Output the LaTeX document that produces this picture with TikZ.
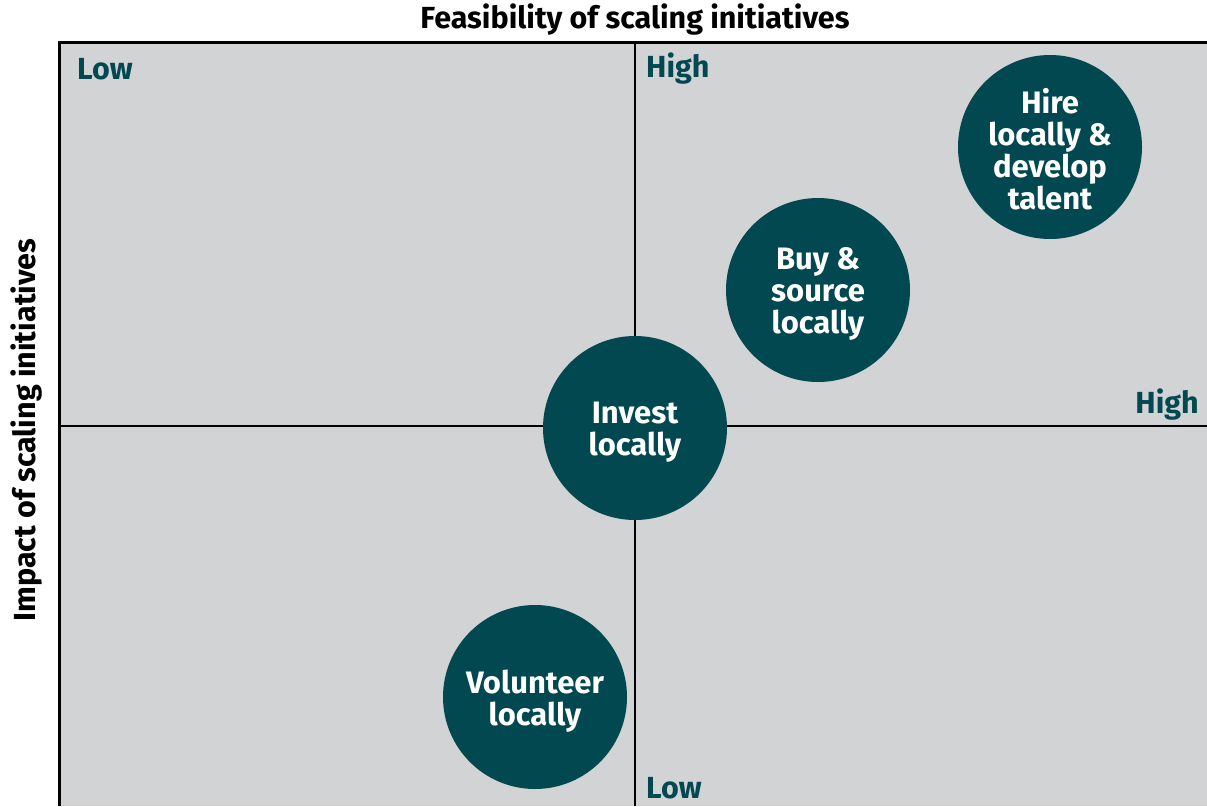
\documentclass[tikz,border=0pt]{standalone}
\usepackage{fontspec}
\setmainfont{Fira Sans}
\definecolor{panel}{HTML}{D1D3D4}
\definecolor{teal}{HTML}{014850}
\begin{document}
\begin{tikzpicture}[x=1pt,y=-1pt,
  bubble/.style={circle,fill=teal,minimum size=184pt,inner sep=0pt},
  btext/.style={text=white,font=\fontsize{31}{32}\selectfont\bfseries,align=center,inner sep=0pt},
  level/.style={text=teal,font=\fontsize{30.5}{32}\selectfont\bfseries,inner sep=0pt},
  axis/.style={text=black,font=\fontsize{30.5}{32}\selectfont\bfseries,inner sep=0pt}]
\useasboundingbox (0,0) rectangle (1207,806);
\fill[panel] (59.5,42) rectangle (1207,806);
\draw[line width=3pt] (59.5,806) -- (59.5,42) -- (1207,42);
\draw[line width=2pt] (635,42) -- (635,806);
\draw[line width=2pt] (59.5,426) -- (1207,426);
\node[axis] (title) at (635,20) {Feasibility of scaling initiatives};
\node[axis,rotate=90] (ylab) at (27,430) {Impact of scaling initiatives};
\node[level,anchor=west] (lowx) at (77,69) {Low};
\node[level,anchor=west] (highx) at (646,69) {High};
\node[level,anchor=east] (highy) at (1199,405) {High};
\node[level,anchor=west] (lowy) at (646,788) {Low};
\node[bubble] (hire) at (1050,147) {};
\node[bubble] (buy) at (818,290) {};
\node[bubble] (invest) at (635,428) {};
\node[bubble] (vol) at (535,697) {};
\node[btext] (hiret) at ([yshift=-2pt]hire.center) {Hire\\locally \&\\develop\\talent};
\node[btext] (buyt) at ([yshift=-4pt]buy.center) {Buy \&\\source\\locally};
\node[btext] (investt) at ([yshift=-4pt]invest.center) {Invest\\locally};
\node[btext] (volt) at ([yshift=-4pt]vol.center) {Volunteer\\locally};
\end{tikzpicture}
\end{document}
